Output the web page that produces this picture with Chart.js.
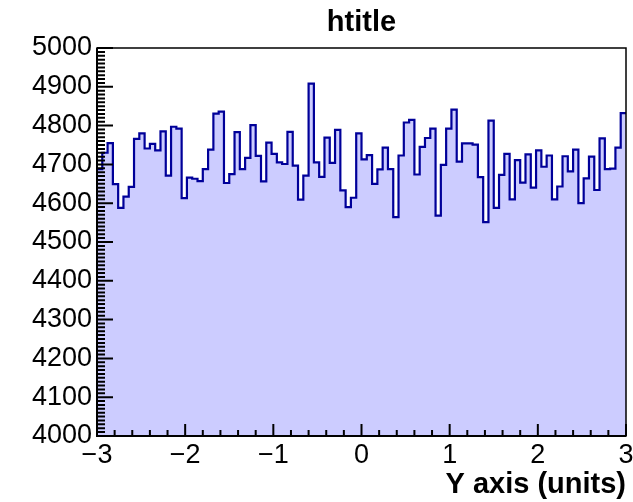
<!DOCTYPE html>
<html>
<head>
<meta charset="utf-8">
<script src="https://cdn.jsdelivr.net/npm/chart.js@4/dist/chart.umd.min.js"></script>
<style>
  html, body { margin: 0; padding: 0; background: #fff; }
  #wrap { width: 633px; height: 502px; position: relative; }
</style>
</head>
<body>
<div id="wrap"><canvas id="chart"></canvas></div>
<script>
// histogram: 100 bins from -3 to 3
const binLow = -3
const binHigh = 3
const counts = [
  4688, 4730, 4755, 4649, 4588, 4617, 4642, 4766, 4780, 4741,
  4753, 4736, 4785, 4671, 4797, 4792, 4613, 4666, 4663, 4657,
  4688, 4738, 4831, 4836, 4652, 4675, 4783, 4688, 4717, 4801,
  4722, 4656, 4756, 4727, 4705, 4701, 4784, 4697, 4609, 4671,
  4908, 4705, 4668, 4769, 4704, 4789, 4633, 4590, 4614, 4780,
  4713, 4724, 4650, 4687, 4743, 4688, 4564, 4723, 4808, 4815,
  4674, 4745, 4768, 4792, 4568, 4699, 4792, 4841, 4707, 4754,
  4754, 4751, 4667, 4551, 4813, 4588, 4673, 4727, 4610, 4711,
  4653, 4726, 4640, 4736, 4694, 4723, 4610, 4643, 4721, 4682,
  4738, 4600, 4664, 4720, 4634, 4767, 4688, 4689, 4743, 4832
]
const xTicks = [-3, -2, -1, 0, 1, 2, 3]
const yTicks = [4000, 4100, 4200, 4300, 4400, 4500, 4600, 4700, 4800, 4900, 5000]
const xMinorStep = 0.2
const yMinorStep = 10

const font = "'Liberation Sans', Arial, Helvetica, sans-serif"
const label = v => String(v).replace('-', '\u2212')

// ROOT style frame with ticks pointing inside
const rootFrame = {
  id: 'rootFrame',
  afterDatasetsDraw (chart) {
    const { ctx, chartArea: a, scales: { x, y } } = chart
    ctx.save()
    ctx.strokeStyle = '#000'
    ctx.lineWidth = 1.5
    ctx.strokeRect(a.left, a.top, a.right - a.left, a.bottom - a.top)
    ctx.lineWidth = 2
    ctx.beginPath()
    ctx.moveTo(a.left, a.top)
    ctx.lineTo(a.left, a.bottom)
    ctx.lineTo(a.right, a.bottom)
    ctx.stroke()

    ctx.beginPath()
    const ny = Math.round((yTicks[yTicks.length - 1] - yTicks[0]) / yMinorStep)
    for (let i = 0; i <= ny; i++) {
      const p = y.getPixelForValue(yTicks[0] + i * yMinorStep)
      const len = i % 10 === 0 ? 16 : 8
      ctx.moveTo(a.left, p)
      ctx.lineTo(a.left + len, p)
    }
    const nx = Math.round((xTicks[xTicks.length - 1] - xTicks[0]) / xMinorStep)
    for (let i = 0; i <= nx; i++) {
      const p = x.getPixelForValue(xTicks[0] + i * xMinorStep)
      const len = i % 5 === 0 ? 12 : 6
      ctx.moveTo(p, a.bottom)
      ctx.lineTo(p, a.bottom - len)
    }
    ctx.stroke()
    ctx.restore()
  }
}

function build () {
  const binWidth = (binHigh - binLow) / counts.length
  const points = counts.map((c, i) => ({ x: binLow + i * binWidth, y: c }))
  points.push({ x: binHigh, y: counts[counts.length - 1] })

  new Chart(document.getElementById('chart'), {
    type: 'line',
    data: {
      datasets: [{
        data: points,
        stepped: 'before',
        borderColor: '#000099',
        borderWidth: 2.2,
        backgroundColor: '#ccccff',
        fill: 'start',
        pointRadius: 0
      }]
    },
    options: {
      responsive: true,
      maintainAspectRatio: false,
      animation: false,
      layout: { padding: { left: 0, right: 7, top: 0, bottom: 0 } },
      scales: {
        x: {
          type: 'linear',
          min: binLow,
          max: binHigh,
          afterBuildTicks: s => { s.ticks = xTicks.map(v => ({ value: v })) },
          afterFit: s => { s.height = 66; s.paddingLeft = 0; s.paddingRight = 0 },
          grid: { display: false, drawTicks: false },
          border: { display: false },
          ticks: {
            color: '#000',
            padding: 3,
            maxRotation: 0,
            autoSkip: false,
            font: { family: font, size: 27 },
            callback: v => label(v)
          },
          title: {
            display: true,
            text: 'Y axis (units)',
            align: 'end',
            color: '#000',
            padding: { top: 0, bottom: 0 },
            font: { family: font, size: 29, weight: 'bold' }
          }
        },
        y: {
          min: yTicks[0],
          max: yTicks[yTicks.length - 1],
          afterBuildTicks: s => { s.ticks = yTicks.map(v => ({ value: v })) },
          afterFit: s => { s.width = 97; s.paddingTop = 0; s.paddingBottom = 0 },
          grid: { display: false, drawTicks: false },
          border: { display: false },
          ticks: {
            color: '#000',
            padding: 5,
            autoSkip: false,
            font: { family: font, size: 27 },
            callback: v => label(v)
          }
        }
      },
      plugins: {
        legend: { display: false },
        tooltip: { enabled: false },
        title: {
          display: true,
          text: 'htitle',
          fullSize: false,
          color: '#000',
          padding: { top: 6, bottom: 7.2 },
          font: { family: font, size: 29, weight: 'bold' }
        }
      }
    },
    plugins: [rootFrame]
  })
}

build()
</script>
</body>
</html>
